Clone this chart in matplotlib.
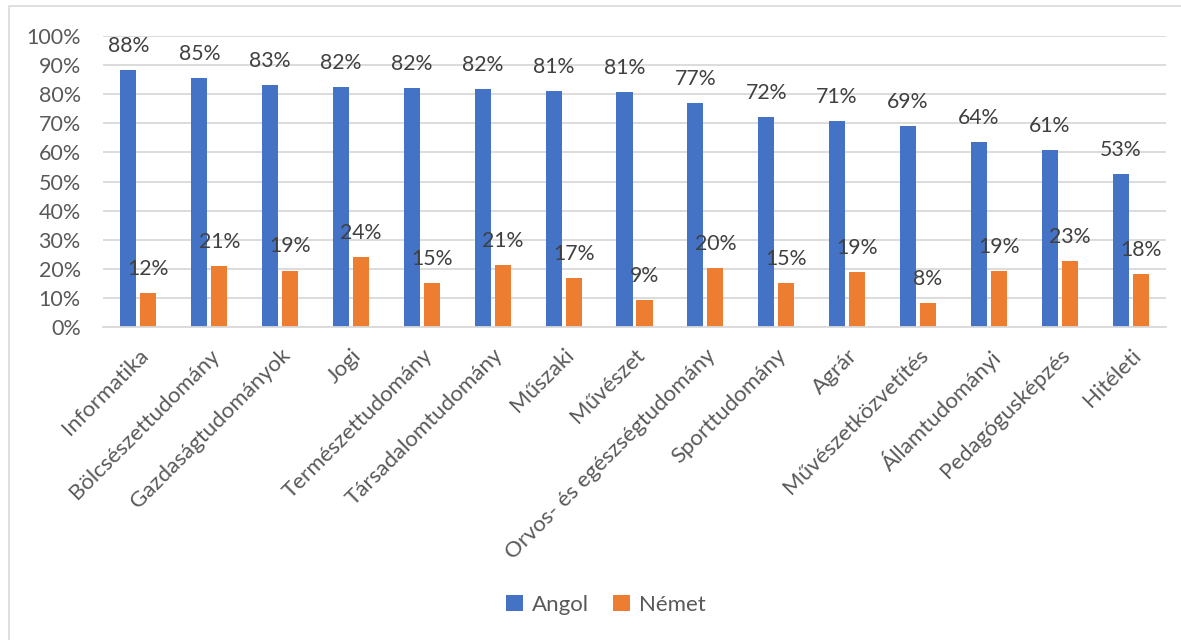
import matplotlib.pyplot as plt
import numpy as np
from matplotlib.patches import Rectangle

plt.rcParams['font.family'] = ['Lato', 'DejaVu Sans']

categories = ["Informatika", "Bölcsészettudomány", "Gazdaságtudományok", "Jogi",
              "Természettudomány", "Társadalomtudomány", "Műszaki", "Művészet",
              "Orvos- és egészségtudomány", "Sporttudomány", "Agrár",
              "Művészetközvetítés", "Államtudományi", "Pedagógusképzés", "Hitéleti"]
angol = [88.4, 85.4, 83.3, 82.4, 82.1, 81.8, 81.1, 80.8, 77.0, 72.2, 70.8, 69.1, 63.6, 60.8, 52.6]
nemet = [11.6, 20.9, 19.4, 24.0, 15.1, 21.3, 16.8, 9.3, 20.3, 15.1, 18.9, 8.2, 19.2, 22.6, 18.2]
yticks = [0, 10, 20, 30, 40, 50, 60, 70, 80, 90, 100]

blue = '#4472C4'
orange = '#ED7D31'
gray = '#595959'

fig = plt.figure(figsize=(11.81, 6.4), dpi=100)
# chart frame
fig.patches.append(Rectangle((9 / 1181, -0.1), 1.2, 1.1 - 6 / 640, transform=fig.transFigure,
                             fill=False, edgecolor='#d9d9d9', linewidth=1.2))

ax = fig.add_axes([103 / 1181, 1 - 327 / 640, 1063 / 1181, 291 / 640])
x = np.arange(len(categories))
w = 0.226
off = 0.141
b1 = ax.bar(x - off, angol, w, color=blue, label='Angol', zorder=2)
b2 = ax.bar(x + off, nemet, w, color=orange, label='Német', zorder=2)

for bars, vals in ((b1, angol), (b2, nemet)):
    for rect, v in zip(bars, vals):
        ax.annotate(f"{round(v)}%", (rect.get_x() + rect.get_width() / 2, v),
                    xytext=(0, 13), textcoords='offset points', ha='center', va='baseline',
                    fontsize=15.3, color='#404040', zorder=3)

ax.set_xlim(-0.5, len(categories) - 0.5)
ax.set_ylim(0, 100)
ax.set_yticks(yticks)
ax.set_yticklabels([f"{t}%" for t in yticks], fontsize=15.5, color=gray)
ax.yaxis.grid(True, color='#d9d9d9', linewidth=1.3, zorder=0)
ax.set_axisbelow(True)
ax.tick_params(axis='y', length=0, pad=16)
ax.set_xticks(x)
ax.set_xticklabels(categories, rotation=45, ha='right', rotation_mode='anchor',
                   fontsize=16, color=gray)
ax.tick_params(axis='x', length=0, pad=13)
for s in ['top', 'right', 'left']:
    ax.spines[s].set_visible(False)
ax.spines['bottom'].set_color('#d9d9d9')
ax.spines['bottom'].set_linewidth(1.3)

fig.legend(handles=[b1, b2], loc='center', bbox_to_anchor=(606 / 1181, 1 - 605 / 640),
           ncol=2, frameon=False, fontsize=16, labelcolor=gray,
           handlelength=0.75, handleheight=0.75, handletextpad=0.4, columnspacing=1.1)

fig.savefig('out.png', dpi=100)
